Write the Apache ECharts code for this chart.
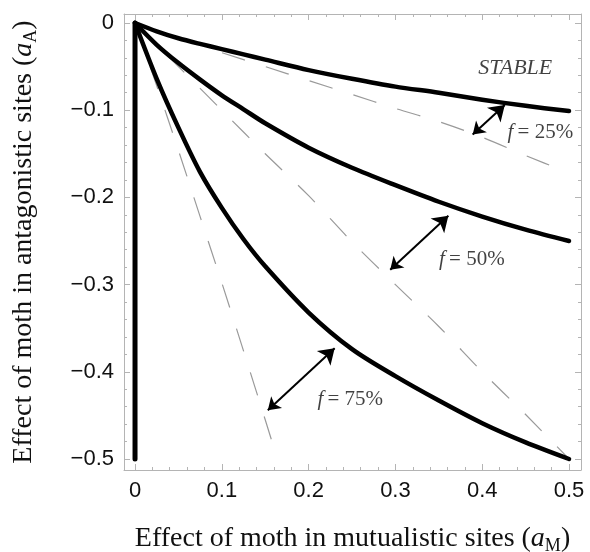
<!DOCTYPE html>
<html>
<head>
<meta charset="utf-8">
<script src="https://cdn.jsdelivr.net/npm/echarts@6/dist/echarts.min.js"></script>
<style>
  html, body { margin: 0; padding: 0; background: #fff; }
  #chart { width: 590px; height: 552px; }
</style>
</head>
<body>
<div id="chart"></div>
<script>
const xSolid = [0, 0.025, 0.05, 0.075, 0.1, 0.125, 0.15, 0.2, 0.25, 0.3, 0.35, 0.4, 0.45, 0.5];
const solid25 = [0, -0.0095, -0.0175, -0.024, -0.030, -0.036, -0.042, -0.054, -0.064, -0.073, -0.080, -0.088, -0.095, -0.101];
const solid50 = [0, -0.025, -0.046, -0.065, -0.083, -0.099, -0.115, -0.143, -0.166, -0.186, -0.205, -0.222, -0.237, -0.250];
const solid75 = [0, -0.064, -0.120, -0.171, -0.212, -0.248, -0.279, -0.332, -0.374, -0.405, -0.433, -0.459, -0.481, -0.500];

const xDash = [0, 0.05, 0.1, 0.15, 0.2, 0.25, 0.3, 0.35, 0.4, 0.45, 0.5];
const dash25 = [0, -0.017, -0.034, -0.050, -0.066, -0.082, -0.098, -0.113, -0.131, -0.152, -0.172];
const dash50 = [0, -0.050, -0.100, -0.150, -0.198, -0.251, -0.300, -0.348, -0.400, -0.449, -0.500];
const xDash75 = [0, 0.025, 0.05, 0.075, 0.1, 0.125, 0.15, 0.164];
const dash75 = [0, -0.072, -0.146, -0.222, -0.298, -0.376, -0.455, -0.500];

// vertical boundary at aM = 0
const edgeX = [0, 0];
const edgeY = [0, -0.5];

// double arrows [x1, y1, x2, y2]
const arrows = [
    [0.389, -0.128, 0.426, -0.094],
    [0.294, -0.283, 0.361, -0.221],
    [0.153, -0.444, 0.230, -0.373]
];

const labelNames = ['{i|f}\u2009= 25%', '{i|f}\u2009= 50%', '{i|f}\u2009= 75%', '{s|STABLE}'];
const labelX = [0.467, 0.388, 0.248, 0.438];
const labelY = [-0.126, -0.271, -0.432, -0.052];

const xTicks = [0, 0.1, 0.2, 0.3, 0.4, 0.5];
const yTicks = [0, -0.1, -0.2, -0.3, -0.4, -0.5];
const xMinor = [0.02, 0.04, 0.06, 0.08, 0.12, 0.14, 0.16, 0.18, 0.22, 0.24, 0.26, 0.28, 0.32, 0.34, 0.36, 0.38, 0.42, 0.44, 0.46, 0.48];
const yMinor = xMinor.map(v => -v);

const pair = (xs, ys) => xs.map((x, i) => [x, ys[i]]);

const frameColor = '#b4b4b4';
const xRange = { min: -0.0127, max: 0.5138 };
const yRange = { min: -0.5126, max: 0.0103 };

const sansLabel = { fontFamily: 'Liberation Sans', fontSize: 22, color: '#111' };
const serifName = {
    fontFamily: 'Liberation Serif', fontSize: 28, color: '#111',
    rich: {
        i: { fontFamily: 'Liberation Serif', fontSize: 28, fontStyle: 'italic', color: '#111' },
        sub: { fontFamily: 'Liberation Serif', fontSize: 18, color: '#111', padding: [15, 0, 0, 0] }
    }
};

function axisSet(dim, position, major, minor, withLabel) {
    const range = dim === 'x' ? xRange : yRange;
    const base = {
        type: 'value', position: position, ...range,
        splitLine: { show: false },
        axisLine: { show: true, onZero: false, lineStyle: { color: frameColor, width: 1 } },
        axisTick: { show: true, inside: true, length: 6, customValues: major, lineStyle: { color: frameColor } },
        axisLabel: { show: false }
    };
    if (withLabel) {
        base.axisLabel = {
            show: true, customValues: major, margin: 10, ...sansLabel,
            formatter: v => v === 0 ? '0' : (v < 0 ? '\u2212' : '') + Math.abs(v).toFixed(1)
        };
    }
    const small = {
        type: 'value', position: position, ...range,
        splitLine: { show: false },
        axisLine: { show: false, onZero: false },
        axisTick: { show: true, inside: true, length: 3, customValues: minor, lineStyle: { color: frameColor } },
        axisLabel: { show: false }
    };
    return [base, small];
}

const xAxes = [...axisSet('x', 'bottom', xTicks, xMinor, true), ...axisSet('x', 'top', xTicks, xMinor, false)];
const yAxes = [...axisSet('y', 'left', yTicks, yMinor, true), ...axisSet('y', 'right', yTicks, yMinor, false)];

xAxes[0].name = 'Effect of moth in mutualistic sites ({i|a}{sub|M})';
xAxes[0].nameLocation = 'middle';
xAxes[0].nameGap = 52;
xAxes[0].nameTextStyle = serifName;

yAxes[0].name = 'Effect of moth in antagonistic sites ({i|a}{sub|A})';
yAxes[0].nameLocation = 'middle';
yAxes[0].nameGap = 84;
yAxes[0].nameTextStyle = serifName;

const solidStyle = { color: '#000', width: 4.5, cap: 'round', join: 'round' };
const dashStyle = { color: '#9a9a9a', width: 1.2, type: [24, 22] };

const lineSeries = (data, style) => ({
    type: 'line', data: data, showSymbol: false, symbol: 'none', smooth: 0.3,
    lineStyle: style, silent: true, z: style.width > 2 ? 3 : 2
});

const option = {
    animation: false,
    backgroundColor: '#fff',
    grid: { left: 124, right: 9, top: 14, bottom: 82, outerBoundsMode: 'none', containLabel: false },
    xAxis: xAxes,
    yAxis: yAxes,
    series: [
        lineSeries(pair(xDash, dash25), dashStyle),
        lineSeries(pair(xDash, dash50), dashStyle),
        lineSeries(pair(xDash75, dash75), dashStyle),
        lineSeries(pair(xSolid, solid25), solidStyle),
        lineSeries(pair(xSolid, solid50), solidStyle),
        lineSeries(pair(xSolid, solid75), solidStyle),
        { ...lineSeries(pair(edgeX, edgeY), { ...solidStyle, width: 5 }), smooth: false },
        {
            type: 'lines', coordinateSystem: 'cartesian2d', silent: true, z: 4,
            symbol: ['arrow', 'arrow'], symbolSize: [12, 15],
            lineStyle: { color: '#000', width: 2, opacity: 1 },
            data: arrows.map(a => ({ coords: [[a[0], a[1]], [a[2], a[3]]] }))
        },
        {
            type: 'scatter', symbolSize: 0, silent: true, z: 5,
            data: labelX.map((x, i) => ({ value: [x, labelY[i]], name: labelNames[i] })),
            label: {
                show: true, position: 'inside', formatter: p => p.name,
                fontFamily: 'Liberation Serif', fontSize: 21, color: '#111',
                rich: {
                    i: { fontFamily: 'Liberation Serif', fontSize: 21, fontStyle: 'italic', color: '#111' },
                    s: { fontFamily: 'Liberation Serif', fontSize: 22, fontStyle: 'italic', color: '#111' }
                }
            }
        }
    ]
};

const chart = echarts.init(document.getElementById('chart'), null, { renderer: 'canvas' });
chart.setOption(option);
</script>
</body>
</html>
